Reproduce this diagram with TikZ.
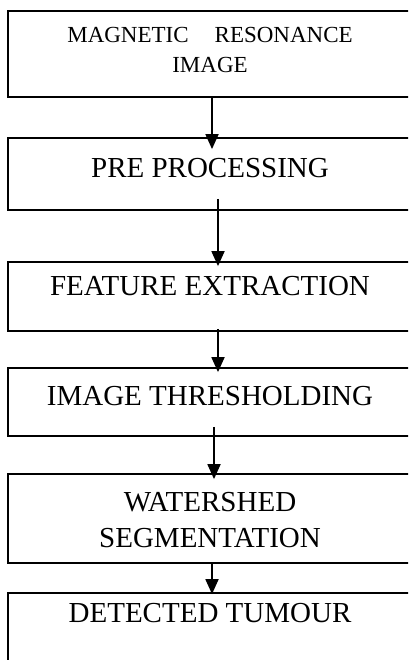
\documentclass[tikz,border=0pt]{standalone}
\usepackage{fontspec}
\setmainfont{Liberation Serif}
\usetikzlibrary{arrows.meta}
\begin{document}
\begin{tikzpicture}[x=1bp,y=-1bp,
  box/.style={draw, line width=1.8bp, minimum width=404bp, inner sep=0pt},
  lbl/.style={font=\fontsize{29bp}{36bp}\selectfont, inner sep=0pt, align=center},
  small/.style={font=\fontsize{23bp}{30bp}\selectfont, inner sep=0pt, align=center},
  flow/.style={line width=1.8bp, -{Triangle[length=15bp,width=13bp]}}]
\clip (0,0) rectangle (408,660);

% process boxes (the last one runs past the lower edge)
\node[box, minimum height=86bp] (b1) at (210,54) {};
\node[box, minimum height=72bp] (b2) at (210,174) {};
\node[box, minimum height=69bp] (b3) at (210,296.5) {};
\node[box, minimum height=68bp] (b4) at (210,402) {};
\node[box, minimum height=89bp] (b5) at (210,518.5) {};
\node[box, minimum height=97bp] (b6) at (210,641.5) {};

% captions
\node[small, anchor=center] (t1) at (210,50.4) {MAGNETIC\hspace{26bp}RESONANCE\\IMAGE};
\node[lbl, anchor=base] (t2) at (210,177) {PRE PROCESSING};
\node[lbl, anchor=base] (t3) at (210,295) {FEATURE EXTRACTION};
\node[lbl, anchor=base] (t4) at (210,405) {IMAGE THRESHOLDING};
\node[lbl, anchor=center] (t5) at (210,520.4) {WATERSHED\\SEGMENTATION};
\node[lbl, anchor=base] (t6) at (210,622) {DETECTED TUMOUR};

% flow arrows
\draw[flow] ([xshift=2bp]b1.south) -- ([xshift=2bp,yshift=-12bp]b2.north);
\draw[flow] ([xshift=8bp,yshift=12bp]b2.south) -- ([xshift=8bp,yshift=-5bp]b3.north);
\draw[flow] ([xshift=8bp,yshift=3bp]b3.south) -- ([xshift=8bp,yshift=-5bp]b4.north);
\draw[flow] ([xshift=4bp,yshift=10bp]b4.south) -- ([xshift=4bp,yshift=-6bp]b5.north);
\draw[flow] ([xshift=2bp]b5.south) -- ([xshift=2bp,yshift=-2bp]b6.north);
\end{tikzpicture}
\end{document}
